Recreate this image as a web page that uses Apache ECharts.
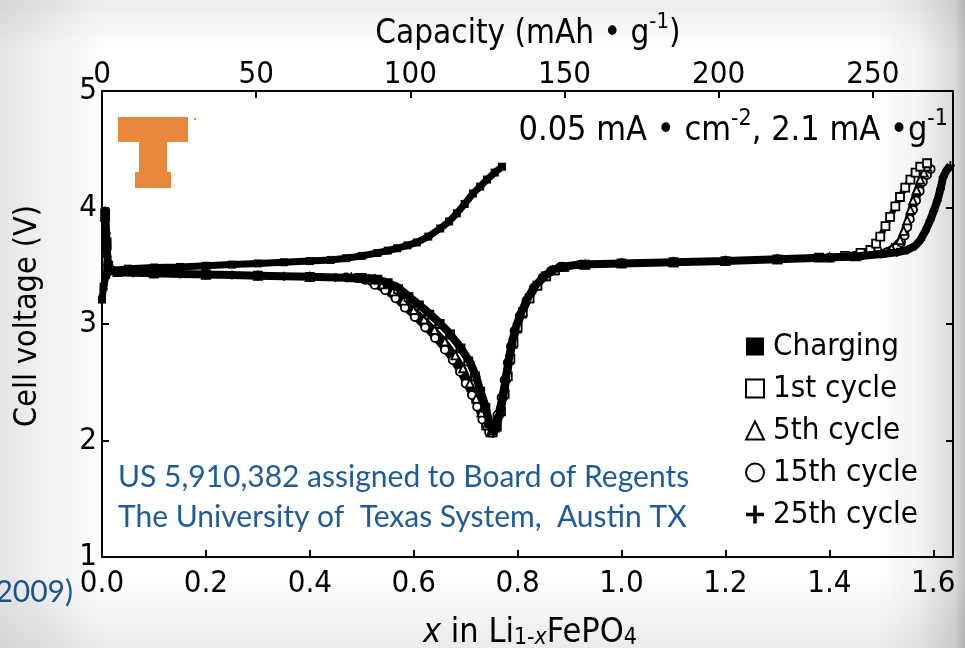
<!DOCTYPE html>
<html>
<head>
<meta charset="utf-8">
<script src="https://cdn.jsdelivr.net/npm/echarts@6/dist/echarts.min.js"></script>
<style>
  html, body { margin: 0; padding: 0; background: #fff; }
  #wrap { position: relative; width: 965px; height: 648px; overflow: hidden; }
  #chart { width: 965px; height: 648px; }
  #shade {
    position: absolute; left: 0; top: 0; width: 965px; height: 648px; pointer-events: none;
    background:
      linear-gradient(to left, rgba(0,0,0,0.25) 0px, rgba(0,0,0,0.15) 10px, rgba(0,0,0,0.05) 45px, rgba(0,0,0,0) 90px),
      linear-gradient(to right, rgba(0,0,0,0.10) 0px, rgba(0,0,0,0) 105px),
      linear-gradient(to top, rgba(0,0,0,0.08) 0px, rgba(0,0,0,0) 70px),
      linear-gradient(to bottom, rgba(0,0,0,0.07) 0px, rgba(0,0,0,0) 50px);
  }
</style>
</head>
<body>
<div id="wrap">
  <div id="chart"></div>
  <div id="shade"></div>
</div>
<script>
// Li(1-x)FePO4 cell: voltage vs. composition x, first charge and discharge cycles
const seriesNames = ['Charging', '1st cycle', '5th cycle', '15th cycle', '25th cycle'];

// [x, cell voltage (V)]
const charging = [
  [0.000,3.21],[0.003,3.32],[0.008,3.42],[0.02,3.46],[0.05,3.475],[0.10,3.485],[0.15,3.49],[0.20,3.50],
  [0.25,3.51],[0.30,3.52],[0.35,3.53],[0.40,3.54],[0.44,3.55],[0.47,3.565],[0.50,3.585],[0.53,3.61],
  [0.55,3.63],[0.568,3.65],[0.588,3.675],[0.606,3.70],[0.628,3.75],[0.651,3.82],[0.668,3.88],[0.683,3.95],
  [0.698,4.03],[0.714,4.12],[0.728,4.18],[0.741,4.24],[0.756,4.30],[0.770,4.35]
];

const cycle1 = [
  [0.006,3.95],[0.009,3.70],[0.012,3.50],[0.03,3.445],[0.10,3.435],[0.20,3.425],[0.30,3.415],[0.40,3.405],
  [0.50,3.395],[0.53,3.38],[0.55,3.35],[0.57,3.30],[0.59,3.23],[0.61,3.16],[0.63,3.08],[0.65,3.00],
  [0.67,2.91],[0.69,2.79],[0.705,2.68],[0.718,2.55],[0.728,2.42],[0.738,2.28],[0.746,2.15],[0.752,2.07],
  [0.760,2.12],[0.768,2.25],[0.775,2.40],[0.781,2.55],[0.786,2.70],[0.792,2.84],[0.800,2.97],[0.810,3.10],
  [0.823,3.22],[0.838,3.33],[0.855,3.41],[0.872,3.46],[0.89,3.49],[0.93,3.51],[1.00,3.52],[1.10,3.53],
  [1.20,3.54],[1.30,3.555],[1.38,3.57],[1.43,3.585],[1.46,3.61],[1.479,3.635],[1.490,3.69],[1.498,3.75],
  [1.508,3.84],[1.517,3.92],[1.527,4.01],[1.536,4.09],[1.546,4.17],[1.556,4.24],[1.566,4.30],[1.575,4.35],
  [1.588,4.38]
];

const cycle5 = [
  [0.006,3.92],[0.009,3.68],[0.012,3.50],[0.03,3.445],[0.10,3.435],[0.20,3.425],[0.30,3.415],[0.40,3.405],
  [0.48,3.40],[0.515,3.385],[0.54,3.34],[0.56,3.28],[0.58,3.20],[0.60,3.12],[0.62,3.04],[0.64,2.95],
  [0.66,2.85],[0.68,2.73],[0.695,2.62],[0.708,2.49],[0.72,2.36],[0.73,2.24],[0.74,2.13],[0.748,2.07],
  [0.756,2.11],[0.764,2.24],[0.771,2.39],[0.777,2.54],[0.783,2.69],[0.79,2.83],[0.798,2.96],[0.808,3.09],
  [0.821,3.22],[0.836,3.33],[0.852,3.41],[0.868,3.46],[0.886,3.49],[0.93,3.51],[1.00,3.52],[1.10,3.53],
  [1.20,3.54],[1.30,3.555],[1.40,3.57],[1.45,3.58],[1.50,3.61],[1.52,3.65],[1.536,3.72],[1.543,3.80],
  [1.550,3.89],[1.556,3.98],[1.561,4.06],[1.568,4.15],[1.575,4.24],[1.582,4.30],[1.588,4.35]
];

const cycle15 = [
  [0.006,3.90],[0.009,3.66],[0.012,3.50],[0.03,3.445],[0.10,3.435],[0.20,3.425],[0.30,3.415],[0.40,3.405],
  [0.47,3.40],[0.49,3.395],[0.506,3.38],[0.525,3.335],[0.545,3.29],[0.565,3.22],[0.583,3.14],[0.602,3.06],
  [0.622,2.97],[0.641,2.88],[0.660,2.78],[0.675,2.69],[0.689,2.59],[0.700,2.49],[0.712,2.39],[0.722,2.29],
  [0.732,2.18],[0.739,2.12],[0.745,2.07],[0.753,2.10],[0.761,2.22],[0.769,2.37],[0.775,2.52],[0.781,2.67],
  [0.787,2.81],[0.794,2.94],[0.804,3.07],[0.817,3.20],[0.831,3.31],[0.848,3.40],[0.864,3.455],[0.882,3.49],
  [0.92,3.51],[1.00,3.52],[1.10,3.53],[1.20,3.54],[1.30,3.555],[1.40,3.57],[1.46,3.585],[1.51,3.615],
  [1.53,3.66],[1.538,3.70],[1.545,3.76],[1.550,3.83],[1.555,3.90],[1.561,3.98],[1.567,4.06],[1.574,4.14],
  [1.580,4.22],[1.588,4.28],[1.595,4.33]
];

const cycle25 = [
  [0.006,3.97],[0.008,3.78],[0.010,3.58],[0.014,3.46],[0.03,3.445],[0.06,3.44],[0.10,3.435],[0.15,3.43],
  [0.20,3.425],[0.25,3.42],[0.30,3.415],[0.35,3.41],[0.40,3.405],[0.45,3.40],[0.50,3.395],[0.525,3.39],
  [0.545,3.36],[0.568,3.318],[0.587,3.25],[0.606,3.18],[0.625,3.11],[0.645,3.03],[0.665,2.94],[0.683,2.84],
  [0.697,2.75],[0.709,2.67],[0.720,2.55],[0.728,2.43],[0.737,2.31],[0.743,2.20],[0.748,2.12],[0.752,2.06],
  [0.758,2.10],[0.765,2.22],[0.772,2.37],[0.777,2.52],[0.782,2.67],[0.788,2.82],[0.795,2.95],[0.805,3.08],
  [0.818,3.21],[0.832,3.32],[0.849,3.40],[0.865,3.455],[0.882,3.49],[0.92,3.51],[1.00,3.52],[1.10,3.53],
  [1.20,3.54],[1.30,3.555],[1.40,3.57],[1.45,3.58],[1.50,3.60],[1.53,3.615],[1.55,3.635],[1.565,3.67],
  [1.575,3.72],[1.585,3.80],[1.594,3.89],[1.601,3.97],[1.608,4.06],[1.614,4.16],[1.619,4.26],[1.626,4.32],
  [1.633,4.36]
];

// axis ranges
const xRange = [0, 1.638];
const xStep = 0.2;
const capRange = [0, 276];
const capStep = 50;
const vRange = [1, 5];
const vStep = 1;

const COND = "'DejaVu Sans Condensed', 'Liberation Sans Narrow', sans-serif";
const HUMAN = "Lato, 'Open Sans', sans-serif";
const BLUE = '#1d5b9a';
const ORANGE = '#e8883c';
const PLUS = 'path://M4,0h2v4h4v2h-4v4h-2v-4h-4v-2h4z';

function onStep(v, step) {
  const r = v / step;
  return Math.abs(r - Math.round(r)) < 1e-6;
}

const axisCommon = {
  axisLine: { show: true, onZero: false, lineStyle: { color: '#000', width: 2 } },
  axisTick: { show: true, inside: true, length: 7, lineStyle: { color: '#000', width: 2 } },
  splitLine: { show: false }
};

function lineSeries(name, data, symbol, size, hollow, width, z) {
  return {
    name: name,
    type: 'line',
    data: data,
    xAxisIndex: 0,
    yAxisIndex: 0,
    z: z,
    symbol: symbol,
    symbolSize: size,
    showSymbol: true,
    showAllSymbol: true,
    lineStyle: { color: '#000', width: width },
    itemStyle: hollow
      ? { color: '#fff', borderColor: '#000', borderWidth: 1.8 }
      : { color: '#000', borderColor: '#000', borderWidth: 0 },
    emphasis: { disabled: true },
    silent: true
  };
}

const chart = echarts.init(document.getElementById('chart'), null, { renderer: 'canvas' });

chart.setOption({
  animation: false,
  backgroundColor: 'transparent',
  grid: { left: 102, right: 12, top: 91, bottom: 91, show: true, backgroundColor: '#fff', borderWidth: 0 },
  xAxis: [
    Object.assign({}, axisCommon, {
      type: 'value', position: 'bottom', min: xRange[0], max: xRange[1], interval: xStep,
      axisLabel: {
        margin: 11, fontSize: 31, lineHeight: 31, color: '#000', fontFamily: COND,
        formatter: v => onStep(v, xStep) ? v.toFixed(1) : ''
      }
    }),
    Object.assign({}, axisCommon, {
      type: 'value', position: 'top', min: capRange[0], max: capRange[1], interval: capStep,
      axisLabel: {
        margin: 1, fontSize: 31, lineHeight: 31, color: '#000', fontFamily: COND,
        formatter: v => onStep(v, capStep) ? String(v) : ''
      }
    })
  ],
  yAxis: [
    Object.assign({}, axisCommon, {
      type: 'value', position: 'left', min: vRange[0], max: vRange[1], interval: vStep,
      axisLabel: { margin: 5, fontSize: 31, color: '#000', fontFamily: COND }
    }),
    Object.assign({}, axisCommon, {
      type: 'value', position: 'right', min: vRange[0], max: vRange[1], interval: vStep,
      axisLabel: { show: false }
    })
  ],
  legend: {
    orient: 'vertical',
    left: 740,
    top: 326,
    itemWidth: 18,
    itemHeight: 18,
    itemGap: 11,
    selectedMode: false,
    textStyle: { fontSize: 31, lineHeight: 31, color: '#000', fontFamily: COND, padding: [0, 0, 0, 4] },
    data: [
      { name: 'Charging', icon: 'rect', itemStyle: { color: '#000', borderWidth: 0 } },
      { name: '1st cycle', icon: 'rect', itemStyle: { color: '#fff', borderColor: '#000', borderWidth: 2 } },
      { name: '5th cycle', icon: 'triangle', itemStyle: { color: '#fff', borderColor: '#000', borderWidth: 2 } },
      { name: '15th cycle', icon: 'circle', itemStyle: { color: '#fff', borderColor: '#000', borderWidth: 2 } },
      { name: '25th cycle', icon: PLUS, itemStyle: { color: '#000', borderWidth: 0 } }
    ]
  },
  series: [
    lineSeries(seriesNames[3], cycle15, 'circle', 8, true, 6, 2),
    lineSeries(seriesNames[2], cycle5, 'triangle', 8, true, 6, 2),
    lineSeries(seriesNames[1], cycle1, 'rect', 8, true, 6, 2),
    lineSeries(seriesNames[4], cycle25, PLUS, 9, false, 8, 3),
    lineSeries(seriesNames[0], charging, 'rect', 8, false, 7, 4)
  ],
  graphic: [
    // axis titles
    {
      type: 'text', x: 528, y: 31, silent: true,
      style: {
        text: '{a|Capacity (mAh • g}{s|-1}{a|)}',
        align: 'center', verticalAlign: 'middle',
        rich: {
          a: { fontSize: 33, fontFamily: COND, fill: '#000', lineHeight: 40, verticalAlign: 'bottom' },
          s: { fontSize: 22, fontFamily: COND, fill: '#000', lineHeight: 22, verticalAlign: 'top' }
        }
      }
    },
    {
      type: 'text', x: 28, y: 316, rotation: Math.PI / 2, silent: true,
      style: {
        text: 'Cell voltage (V)', fontSize: 32, fontFamily: COND, fill: '#000',
        align: 'center', verticalAlign: 'middle'
      }
    },
    {
      type: 'text', x: 530, y: 630, silent: true,
      style: {
        text: '{i|x}{a| in Li}{b|1-}{bi|x}{a|FePO}{b|4}',
        align: 'center', verticalAlign: 'middle',
        rich: {
          a: { fontSize: 34, fontFamily: COND, fill: '#000', lineHeight: 40, verticalAlign: 'bottom' },
          i: { fontSize: 34, fontFamily: COND, fontStyle: 'italic', fill: '#000', lineHeight: 40, verticalAlign: 'bottom' },
          b: { fontSize: 23, fontFamily: COND, fill: '#000', lineHeight: 22, verticalAlign: 'bottom' },
          bi: { fontSize: 23, fontFamily: COND, fontStyle: 'italic', fill: '#000', lineHeight: 22, verticalAlign: 'bottom' }
        }
      }
    },
    // test conditions
    {
      type: 'text', x: 948, y: 128, silent: true,
      style: {
        text: '{a|0.05 mA • cm}{s|-2}{a|, 2.1 mA •g}{s|-1}',
        align: 'right', verticalAlign: 'middle',
        rich: {
          a: { fontSize: 34, fontFamily: COND, fill: '#000', lineHeight: 40, verticalAlign: 'bottom' },
          s: { fontSize: 23, fontFamily: COND, fill: '#000', lineHeight: 22, verticalAlign: 'top' }
        }
      }
    },
    // Power T logo
    {
      type: 'polygon', silent: true,
      shape: { points: [[118,117],[188,117],[188,142],[167,142],[167,172],[171,172],[171,188],[135,188],[135,172],[139,172],[139,142],[118,142]] },
      style: { fill: ORANGE }
    },
    { type: 'circle', silent: true, shape: { cx: 195, cy: 119, r: 1.3 }, style: { fill: ORANGE } },
    // patent note
    {
      type: 'text', x: 118, y: 477, silent: true,
      style: { text: 'US 5,910,382 assigned to Board of Regents', fontSize: 30, fontFamily: HUMAN, fill: BLUE, align: 'left', verticalAlign: 'middle' }
    },
    {
      type: 'text', x: 118, y: 517, silent: true,
      style: { text: 'The University of  Texas System,  Austin TX', fontSize: 30, fontFamily: HUMAN, fill: BLUE, align: 'left', verticalAlign: 'middle' }
    },
    {
      type: 'text', x: 73, y: 592, silent: true,
      style: { text: '2009)', fontSize: 30, fontFamily: HUMAN, fill: BLUE, align: 'right', verticalAlign: 'middle' }
    }
  ]
});
</script>
</body>
</html>
